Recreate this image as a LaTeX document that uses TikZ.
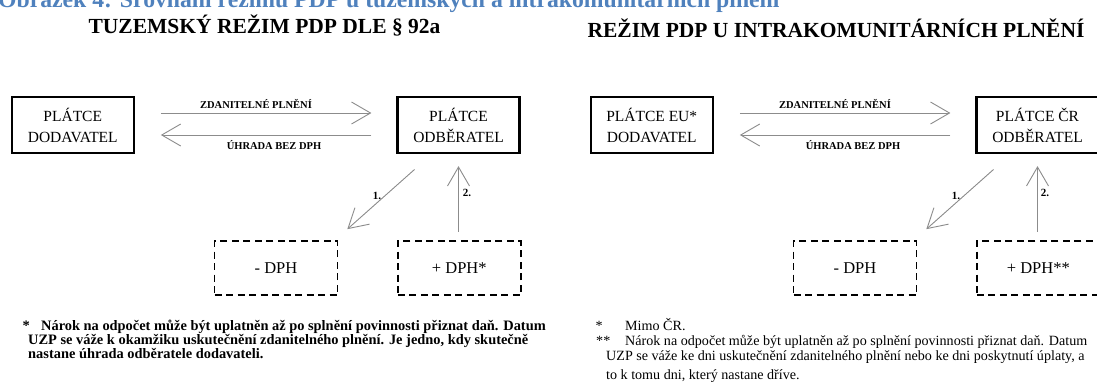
\documentclass[tikz,border=0pt]{standalone}
\usepackage{fontspec}
\setmainfont{Liberation Serif}
\usetikzlibrary{arrows.meta,calc}
\definecolor{capblue}{HTML}{4F81BD}
\definecolor{arrgray}{HTML}{8C8C8C}
\tikzset{
 solidbox/.style={draw=black, line width=2.2pt, minimum width=122pt, minimum height=56pt, inner sep=0pt, align=center, font=\fontsize{15.5}{21}\selectfont},
 dashbox/.style={draw=black, line width=1.7pt, dash pattern=on 7pt off 4.5pt, minimum width=123pt, minimum height=54pt, inner sep=0pt, font=\fontsize{16.5}{20}\selectfont},
 arr/.style={draw=arrgray, line width=0.9pt, -{Straight Barb[length=19pt,width=22pt]}},
 flowlbl/.style={font=\bfseries\fontsize{10.5}{12}\selectfont, inner sep=0pt, anchor=base},
 numlbl/.style={font=\bfseries\fontsize{11}{12}\selectfont, inner sep=0pt},
 titlelbl/.style={font=\bfseries\fontsize{21.5}{24}\selectfont, inner sep=0pt, anchor=base},
 lnote/.style={inner sep=0pt, anchor=base west, font=\bfseries\fontsize{14.4}{14}\selectfont},
 rnote/.style={inner sep=0pt, anchor=base west, font=\fontsize{14.1}{14}\selectfont},
}
\begin{document}
\begin{tikzpicture}[x=1pt,y=-1pt]
\useasboundingbox (0,0) rectangle (1097,381);
\clip (0,0) rectangle (1097,381);
\fill[white] (0,0) rectangle (1097,381);

\node[anchor=base west, inner sep=0pt, text=capblue, font=\bfseries\fontsize{23.7}{26}\selectfont] (caption) at (-2,7) {Obrázek 4: Srovnání režimu PDP u tuzemských a intrakomunitárních plnění};

\node[titlelbl] (ltitle) at (264.5,33) {TUZEMSKÝ REŽIM PDP DLE § 92a};
\node[titlelbl] (rtitle) at (836,37) {REŽIM PDP U INTRAKOMUNITÁRNÍCH PLNĚNÍ};

% left diagram
\node[solidbox] (ld) at (72.75,125) {PLÁTCE\\DODAVATEL};
\node[solidbox] (lo) at (458.5,125) {PLÁTCE\\ODBĚRATEL};
\node[dashbox] (lm) at (276,268) {- DPH};
\node[dashbox] (lp) at (459.3,268) {+ DPH*};

\draw[arr, shorten <=26pt, shorten >=25pt] ([yshift=12pt]ld.east) -- ([yshift=12pt]lo.west);
\draw[arr, shorten <=25pt, shorten >=26pt] ([yshift=-10pt]lo.west) -- ([yshift=-10pt]ld.east);
\node[flowlbl] (lzp) at (256,108.8) {ZDANITELNÉ PLNĚNÍ};
\node[flowlbl] (luh) at (274,149) {ÚHRADA BEZ DPH};
\draw[arr] ($(lo.south)+(-44,15.4)$) -- ($(lm.north east)+(9,-11)$);
\draw[arr] ($(lo.south |- lp.north)+(0,-8.5)$) -- ($(lo.south)+(0,12)$);
\node[numlbl] (l1) at (377,196) {1.};
\node[numlbl] (l2) at (467,193) {2.};

% right diagram
\node[solidbox] (rd) at (651.75,125) {PLÁTCE EU*\\DODAVATEL};
\node[solidbox] (ro) at (1037.5,125) {PLÁTCE ČR\\ODBĚRATEL};
\node[dashbox] (rm) at (855,268) {- DPH};
\node[dashbox] (rp) at (1038.3,268) {+ DPH**};

\draw[arr, shorten <=26pt, shorten >=25pt] ([yshift=12pt]rd.east) -- ([yshift=12pt]ro.west);
\draw[arr, shorten <=25pt, shorten >=26pt] ([yshift=-10pt]ro.west) -- ([yshift=-10pt]rd.east);
\node[flowlbl] (rzp) at (835,108.8) {ZDANITELNÉ PLNĚNÍ};
\node[flowlbl] (ruh) at (853,149) {ÚHRADA BEZ DPH};
\draw[arr] ($(ro.south)+(-44,15.4)$) -- ($(rm.north east)+(9,-11)$);
\draw[arr] ($(ro.south |- rp.north)+(0,-8.5)$) -- ($(ro.south)+(0,12)$);
\node[numlbl] (r1) at (956,196) {1.};
\node[numlbl] (r2) at (1045,193) {2.};

% footnotes left
\node[lnote] (lstar) at (22.4,330.5) {*};
\node[lnote] (ln1) at (41,330.5) {Nárok na odpočet může být uplatněn až po splnění povinnosti přiznat daň. Datum};
\node[lnote] (ln2) at (28,344.5) {UZP se váže k okamžiku uskutečnění zdanitelného plnění. Je jedno, kdy skutečně};
\node[lnote] (ln3) at (28,358.5) {nastane úhrada odběratele dodavateli.};

% footnotes right
\node[rnote] (rstar) at (595.5,330.5) {*};
\node[rnote] (rn0) at (625,330.5) {Mimo ČR.};
\node[rnote] (rstar2) at (596,345) {**};
\node[rnote] (rn1) at (625,345) {Nárok na odpočet může být uplatněn až po splnění povinnosti přiznat daň. Datum};
\node[rnote] (rn2) at (606,360) {UZP se váže ke dni uskutečnění zdanitelného plnění nebo ke dni poskytnutí úplaty, a};
\node[rnote] (rn3) at (606,379) {to k tomu dni, který nastane dříve.};
\end{tikzpicture}
\end{document}
